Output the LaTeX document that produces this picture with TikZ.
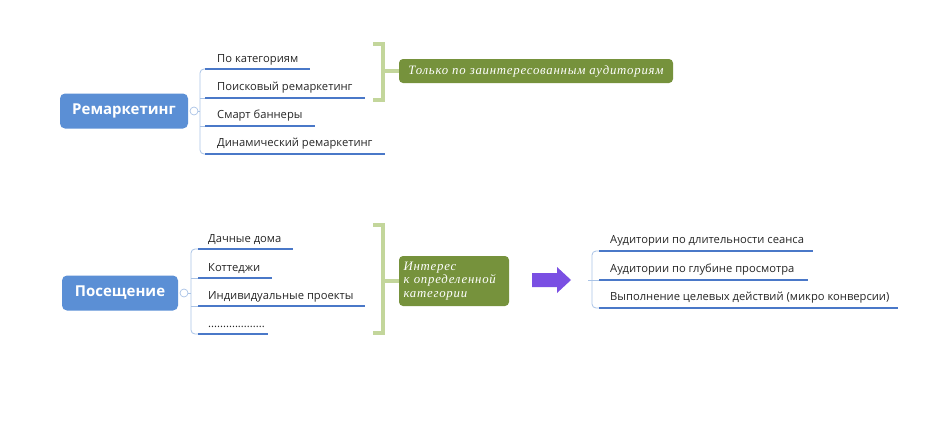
\documentclass[tikz,border=0pt]{standalone}
\usepackage{fontspec}
\setmainfont{Open Sans}
\newfontfamily\serifit{Liberation Serif}[LetterSpace=6]
\definecolor{nodeblue}{HTML}{5B8FD5}
\definecolor{ulblue}{HTML}{4A78C8}
\definecolor{brblue}{HTML}{A9C3E6}
\definecolor{brgreen}{HTML}{C3D69B}
\definecolor{boxgreen}{HTML}{76923C}
\definecolor{arrowpurple}{HTML}{7A4FE3}
\begin{document}
\begin{tikzpicture}[x=1pt,y=-1pt,
  mainnode/.style={fill=nodeblue,rounded corners=5pt,text=white,font=\fontsize{15}{18}\selectfont\bfseries,inner sep=0pt,anchor=center},
  item/.style={anchor=base west,font=\fontsize{11.2}{13}\selectfont,inner sep=0pt,text=black!85},
  uline/.style={draw=ulblue,line width=2.4pt},
  branch/.style={draw=brblue,line width=0.8pt,rounded corners=4pt},
  bracket/.style={draw=brgreen,line width=3.2pt},
  gbox/.style={fill=boxgreen,rounded corners=4pt,text=white,inner sep=0pt,font=\serifit\itshape\fontsize{12.8}{13.5}\selectfont},
  knob/.style={circle,draw=brblue,fill=white,line width=0.7pt,minimum size=8pt,inner sep=0pt}
]
\useasboundingbox (0,0) rectangle (940,442);

% ---------- top group ----------
\node[mainnode,minimum width=128pt,minimum height=35pt] (rem) at (124,111) {Ремаркетинг};
\node[knob] (k1) at (194,111) {};
\coordinate (u1a) at (205,69);  \coordinate (u1b) at (310,69);
\coordinate (u2a) at (205,98);  \coordinate (u2b) at (365,98);
\coordinate (u3a) at (205,126); \coordinate (u3b) at (315,126);
\coordinate (u4a) at (205,154); \coordinate (u4b) at (385,154);
\draw[branch] (u1a) -| (200,111) |- (u4a);
\draw[branch] (200,98) -- (u2a);
\draw[branch] (200,126) -- (u3a);
\draw[branch] (k1) -- (200,111);
\draw[uline] (u1a) -- (u1b);
\draw[uline] (u2a) -- (u2b);
\draw[uline] (u3a) -- (u3b);
\draw[uline] (u4a) -- (u4b);
\node[item] (t1) at (217,62) {По категориям};
\node[item] (t2) at (217,90) {Поисковый ремаркетинг};
\node[item] (t3) at (217,118) {Смарт баннеры};
\node[item] (t4) at (217,146) {Динамический ремаркетинг};

\coordinate (b1t) at (373,44); \coordinate (b1b) at (373,100);
\draw[bracket] (b1t) -- (383,44) -- (383,100) -- (b1b);
\node[gbox,minimum width=274pt,minimum height=24pt] (g1) at (536,71) {Только по заинтересованным аудиториям};
\draw[bracket] (383,71) -- (g1.west);

% ---------- bottom group ----------
\node[mainnode,minimum width=116pt,minimum height=35pt] (pos) at (120,293) {Посещение};
\node[knob] (k2) at (184,293) {};
\coordinate (v1a) at (198,249); \coordinate (v1b) at (293,249);
\coordinate (v2a) at (198,278); \coordinate (v2b) at (272,278);
\coordinate (v3a) at (198,306); \coordinate (v3b) at (365,306);
\coordinate (v4a) at (198,334); \coordinate (v4b) at (268,334);
\draw[branch] (v1a) -| (191,293) |- (v4a);
\draw[branch] (191,278) -- (v2a);
\draw[branch] (191,306) -- (v3a);
\draw[branch] (k2) -- (191,293);
\draw[uline] (v1a) -- (v1b);
\draw[uline] (v2a) -- (v2b);
\draw[uline] (v3a) -- (v3b);
\draw[uline] (v4a) -- (v4b);
\node[item] (s1) at (208,242) {Дачные дома};
\node[item] (s2) at (208,271) {Коттеджи};
\node[item] (s3) at (208,299) {Индивидуальные проекты};
\node[item] (s4) at (208,327) {...................};

\coordinate (b2t) at (373,225); \coordinate (b2b) at (373,333);
\draw[bracket] (b2t) -- (383,225) -- (383,333) -- (b2b);
\node[gbox,minimum width=110pt,minimum height=50pt,align=left,text width=101pt,inner xsep=4.5pt] (g2) at (454,281) {Интерес\\к определенной\\категории};
\draw[bracket] (383,281) -- (g2.west);

\fill[arrowpurple] (532,273) -- (557,273) -- (557,267) -- (571,280) -- (557,293) -- (557,287) -- (532,287) -- cycle;

\coordinate (w1a) at (599,251); \coordinate (w1b) at (813,251);
\coordinate (w2a) at (599,280); \coordinate (w2b) at (808,280);
\coordinate (w3a) at (599,308); \coordinate (w3b) at (898,308);
\draw[branch] (w1a) -| (592,280) |- (w3a);
\draw[branch] (588,280) -- (w2a);
\draw[uline] (w1a) -- (w1b);
\draw[uline] (w2a) -- (w2b);
\draw[uline] (w3a) -- (w3b);
\node[item] (r1) at (610,243) {Аудитории по длительности сеанса};
\node[item] (r2) at (610,272) {Аудитории по глубине просмотра};
\node[item] (r3) at (610,300) {Выполнение целевых действий (микро конверсии)};
\end{tikzpicture}
\end{document}
